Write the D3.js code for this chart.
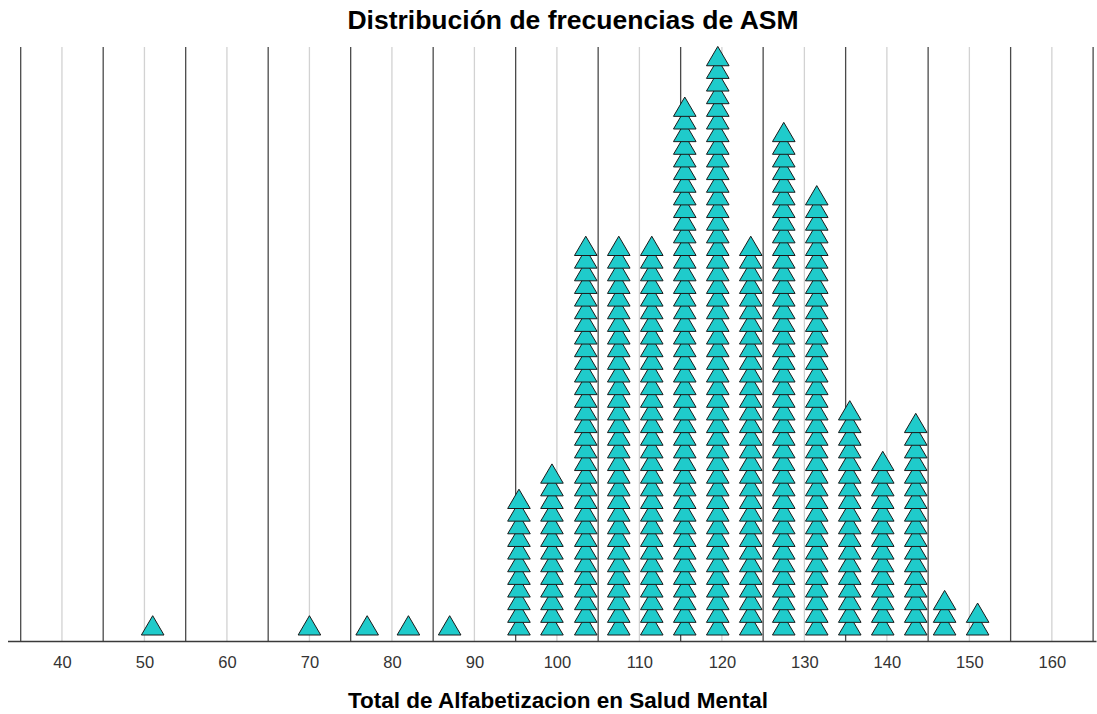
<!DOCTYPE html>
<html>
<head>
<meta charset="utf-8">
<script src="https://cdn.jsdelivr.net/npm/d3@7"></script>
<style>
  body { margin: 0; background: #fff; }
  svg { display: block; font-family: Arial, "Liberation Sans", sans-serif; }
</style>
</head>
<body>
<div id="chart-area"></div>
<script>
var width = 1097;
var height = 714;

// bin centres (Total ASM) and how many cases fall in each
var binValues = [51, 70, 77, 82, 87, 95.4, 99.4, 103.5, 107.5, 111.5, 115.5, 119.5,
                 123.5, 127.5, 131.5, 135.5, 139.5, 143.5, 147, 151];
var binCounts = [1, 1, 1, 1, 1, 11, 13, 31, 31, 31, 42, 46,
                 31, 40, 35, 18, 14, 17, 3, 2];
var tickLabels = [40, 50, 60, 70, 80, 90, 100, 110, 120, 130, 140, 150, 160];
var majorLines = [35, 45, 55, 65, 75, 85, 95, 105, 115, 125, 135, 145, 155, 165];

var plotTop = 47;
var baseline = 641;
var triW = 22.6;
var triH = 19.3;

var svg = d3.select("#chart-area")
    .append("svg")
    .attr("width", width)
    .attr("height", height);

var x = d3.scaleLinear()
    .domain([33.4, 165.35])
    .range([7.5, 1096]);

// stack position -> base of the triangle
var y = d3.scaleLinear()
    .domain([0, 47])
    .range([635, 635 - 47 * 12.65]);

// light grid at the labelled ticks
svg.append("g")
    .selectAll("line")
    .data(tickLabels)
    .enter()
    .append("line")
    .attr("x1", d => x(d))
    .attr("x2", d => x(d))
    .attr("y1", plotTop)
    .attr("y2", baseline)
    .attr("stroke", "#d2d2d2")
    .attr("stroke-width", 1.3);

// dark grid between ticks
svg.append("g")
    .selectAll("line")
    .data(majorLines)
    .enter()
    .append("line")
    .attr("x1", d => x(d))
    .attr("x2", d => x(d))
    .attr("y1", plotTop)
    .attr("y2", baseline)
    .attr("stroke", "#4a4a4a")
    .attr("stroke-width", 1.3);

var dots = [];
binValues.forEach((v, i) => {
    d3.range(binCounts[i]).forEach(k => dots.push({ v: v, k: k }));
});

svg.append("g")
    .selectAll("path")
    .data(dots)
    .enter()
    .append("path")
    .attr("d", d => {
        var cx = x(d.v), b = y(d.k);
        return `M${cx - triW / 2},${b}L${cx + triW / 2},${b}L${cx},${b - triH}Z`;
    })
    .attr("fill", "#1fcbcb")
    .attr("stroke", "#1a1a1a")
    .attr("stroke-width", 1)
    .attr("stroke-linejoin", "miter");

var xAxis = d3.axisBottom(x)
    .tickValues(tickLabels)
    .tickSize(0);

var axisG = svg.append("g")
    .attr("transform", `translate(0, ${baseline})`)
    .call(xAxis);
axisG.select(".domain")
    .attr("stroke", "#3a3a3a")
    .attr("stroke-width", 1.5);
axisG.selectAll("text")
    .attr("y", 27)
    .attr("dy", 0)
    .attr("font-family", "Arial, 'Liberation Sans', sans-serif")
    .attr("font-size", "16.5px")
    .attr("fill", "#333");

svg.append("text")
    .attr("x", 573)
    .attr("y", 29)
    .attr("text-anchor", "middle")
    .attr("font-size", "26.5px")
    .attr("font-weight", "bold")
    .attr("fill", "#000")
    .text("Distribución de frecuencias de ASM");

svg.append("text")
    .attr("x", 558)
    .attr("y", 708)
    .attr("text-anchor", "middle")
    .attr("font-size", "22.5px")
    .attr("font-weight", "bold")
    .attr("fill", "#000")
    .text("Total de Alfabetizacion en Salud Mental");
</script>
</body>
</html>
